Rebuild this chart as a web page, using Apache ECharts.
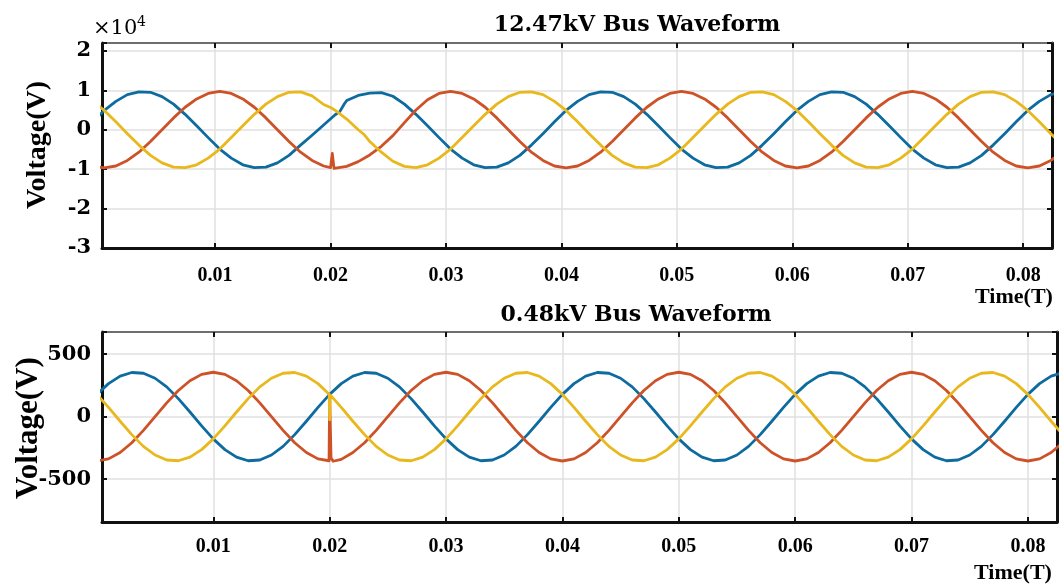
<!DOCTYPE html>
<html>
<head>
<meta charset="utf-8">
<script src="https://cdn.jsdelivr.net/npm/echarts@6/dist/echarts.min.js"></script>
<style>
  html, body { margin: 0; padding: 0; background: #fff; }
  #chart { width: 1064px; height: 584px; }
</style>
</head>
<body>
<div id="chart"></div>
<script>
// ---- 12.47 kV bus (values in units of 10^4 V), sampled every 1 ms ----
const timeTop = [-0.0006, 0.0004, 0.0014, 0.0024, 0.0034, 0.0044, 0.0054, 0.0064, 0.0074, 0.0084, 0.0094,
  0.0104, 0.0114, 0.0124, 0.0134, 0.0144, 0.0154, 0.0164, 0.0174, 0.0184, 0.0194,
  0.0204, 0.0214, 0.0224, 0.0234, 0.0244, 0.0254, 0.0264, 0.0274, 0.0284, 0.0294,
  0.0304, 0.0314, 0.0324, 0.0334, 0.0344, 0.0354, 0.0364, 0.0374, 0.0384, 0.0394,
  0.0404, 0.0414, 0.0424, 0.0434, 0.0444, 0.0454, 0.0464, 0.0474, 0.0484, 0.0494,
  0.0504, 0.0514, 0.0524, 0.0534, 0.0544, 0.0554, 0.0564, 0.0574, 0.0584, 0.0594,
  0.0604, 0.0614, 0.0624, 0.0634, 0.0644, 0.0654, 0.0664, 0.0674, 0.0684, 0.0694,
  0.0704, 0.0714, 0.0724, 0.0734, 0.0744, 0.0754, 0.0764, 0.0774, 0.0784, 0.0794,
  0.0804, 0.0814, 0.0824, 0.0834];

const phaseATop = [0.20,
  0.49, 0.72, 0.89, 0.96, 0.95, 0.84, 0.65, 0.39, 0.10, -0.20, -0.49, -0.72, -0.89, -0.96, -0.95, -0.84, -0.65, -0.39, -0.14, 0.12,
  0.38, 0.74, 0.87, 0.93, 0.94, 0.85, 0.65, 0.39, 0.10, -0.20, -0.49, -0.72, -0.89, -0.96, -0.95, -0.84, -0.65, -0.39, -0.10, 0.20,
  0.49, 0.72, 0.89, 0.96, 0.95, 0.84, 0.65, 0.39, 0.10, -0.20, -0.49, -0.72, -0.89, -0.96, -0.95, -0.84, -0.65, -0.39, -0.10, 0.20,
  0.49, 0.72, 0.89, 0.96, 0.95, 0.84, 0.65, 0.39, 0.10, -0.20, -0.49, -0.72, -0.89, -0.96, -0.95, -0.84, -0.65, -0.39, -0.10, 0.20,
  0.49, 0.72, 0.89, 0.96];

const phaseBTop = [-0.92,
  -0.97, -0.92, -0.78, -0.57, -0.30, 0, 0.30, 0.57, 0.78, 0.92, 0.97, 0.92, 0.78, 0.57, 0.30, 0, -0.30, -0.57, -0.78, -0.92,
  -0.97, -0.93, -0.81, -0.64, -0.42, -0.15, 0.18, 0.50, 0.76, 0.92, 0.97, 0.92, 0.78, 0.57, 0.30, 0, -0.30, -0.57, -0.78, -0.92,
  -0.97, -0.92, -0.78, -0.57, -0.30, 0, 0.30, 0.57, 0.78, 0.92, 0.97, 0.92, 0.78, 0.57, 0.30, 0, -0.30, -0.57, -0.78, -0.92,
  -0.97, -0.92, -0.78, -0.57, -0.30, 0, 0.30, 0.57, 0.78, 0.92, 0.97, 0.92, 0.78, 0.57, 0.30, 0, -0.30, -0.57, -0.78, -0.92,
  -0.97, -0.92, -0.78, -0.57];

const phaseCTop = [0.72,
  0.49, 0.20, -0.10, -0.39, -0.65, -0.84, -0.95, -0.96, -0.89, -0.72, -0.49, -0.20, 0.10, 0.39, 0.65, 0.84, 0.95, 0.96, 0.86, 0.64,
  0.49, 0.27, 0.00, -0.30, -0.57, -0.80, -0.93, -0.96, -0.89, -0.72, -0.49, -0.20, 0.10, 0.39, 0.65, 0.84, 0.95, 0.96, 0.89, 0.72,
  0.49, 0.20, -0.10, -0.39, -0.65, -0.84, -0.95, -0.96, -0.89, -0.72, -0.49, -0.20, 0.10, 0.39, 0.65, 0.84, 0.95, 0.96, 0.89, 0.72,
  0.49, 0.20, -0.10, -0.39, -0.65, -0.84, -0.95, -0.96, -0.89, -0.72, -0.49, -0.20, 0.10, 0.39, 0.65, 0.84, 0.95, 0.96, 0.89, 0.72,
  0.49, 0.20, -0.10, -0.39];

// extra samples around the switching event near 20 ms
const phaseATopEvent = [[0.0208, 0.46], [0.0212, 0.66]];
const phaseBTopEvent = [[0.0200, -0.96], [0.02015, -0.60], [0.0203, -0.98]];
const phaseCTopEvent = [[0.0201, 0.55], [0.0207, 0.43], [0.0210, 0.36], [0.0229, -0.12]];

// ---- 0.48 kV bus (values in V), sampled every 1 ms ----
const timeBottom = [0, 0.001, 0.002, 0.003, 0.004, 0.005, 0.006, 0.007, 0.008, 0.009,
  0.010, 0.011, 0.012, 0.013, 0.014, 0.015, 0.016, 0.017, 0.018, 0.019,
  0.020, 0.021, 0.022, 0.023, 0.024, 0.025, 0.026, 0.027, 0.028, 0.029,
  0.030, 0.031, 0.032, 0.033, 0.034, 0.035, 0.036, 0.037, 0.038, 0.039,
  0.040, 0.041, 0.042, 0.043, 0.044, 0.045, 0.046, 0.047, 0.048, 0.049,
  0.050, 0.051, 0.052, 0.053, 0.054, 0.055, 0.056, 0.057, 0.058, 0.059,
  0.060, 0.061, 0.062, 0.063, 0.064, 0.065, 0.066, 0.067, 0.068, 0.069,
  0.070, 0.071, 0.072, 0.073, 0.074, 0.075, 0.076, 0.077, 0.078, 0.079,
  0.080, 0.081, 0.082, 0.083];

const phaseABottom = [
  178, 264, 324, 353, 347, 307, 238, 144, 37, -74, -178, -264, -324, -353, -347, -307, -238, -144, -37, 74,
  178, 264, 324, 353, 347, 307, 238, 144, 37, -74, -178, -264, -324, -353, -347, -307, -238, -144, -37, 74,
  178, 264, 324, 353, 347, 307, 238, 144, 37, -74, -178, -264, -324, -353, -347, -307, -238, -144, -37, 74,
  178, 264, 324, 353, 347, 307, 238, 144, 37, -74, -178, -264, -324, -353, -347, -307, -238, -144, -37, 74,
  178, 264, 324, 353];

const phaseBBottom = [
  -355, -338, -287, -209, -110, 0, 110, 209, 287, 338, 355, 338, 287, 209, 110, 0, -110, -209, -287, -338,
  172, -342, -287, -209, -110, 0, 110, 209, 287, 338, 355, 338, 287, 209, 110, 0, -110, -209, -287, -338,
  -355, -338, -287, -209, -110, 0, 110, 209, 287, 338, 355, 338, 287, 209, 110, 0, -110, -209, -287, -338,
  -355, -338, -287, -209, -110, 0, 110, 209, 287, 338, 355, 338, 287, 209, 110, 0, -110, -209, -287, -338,
  -355, -338, -287, -209];

const phaseCBottom = [
  178, 74, -37, -144, -238, -307, -347, -353, -324, -264, -178, -74, 37, 144, 238, 307, 347, 353, 324, 264,
  -25, 74, -37, -144, -238, -307, -347, -353, -324, -264, -178, -74, 37, 144, 238, 307, 347, 353, 324, 264,
  178, 74, -37, -144, -238, -307, -347, -353, -324, -264, -178, -74, 37, 144, 238, 307, 347, 353, 324, 264,
  178, 74, -37, -144, -238, -307, -347, -353, -324, -264, -178, -74, 37, 144, 238, 307, 347, 353, 324, 264,
  178, 74, -37, -144];

const phaseBBottomEvent = [[0.01995, -353], [0.02012, -330], [0.0203, -357]];
const phaseCBottomEvent = [[0.01996, 179], [0.02005, 174]];

// axis tick values
const xTicks = [0.01, 0.02, 0.03, 0.04, 0.05, 0.06, 0.07, 0.08];
const yTicksTop = [2, 1, 0, -1, -2, -3];
const yTicksBottom = [500, 0, -500];

const PHASE_COLORS = ['#0d6b9f', '#cd5228', '#e8b81c'];

function pairs(times, values, extra) {
  const pts = times.map((t, i) => [t, values[i]]);
  return pts.concat(extra || []).sort((a, b) => a[0] - b[0]);
}

function isTick(v, list) {
  return list.some(t => Math.abs(t - v) < 1e-9);
}

const serif = 'Liberation Serif';
const wideSerif = 'DejaVu Serif';

function xAxes(gridIndex, min, max, labelMargin) {
  return [
    {
      gridIndex, type: 'value', position: 'bottom', min, max,
      minInterval: 0.01, maxInterval: 0.01,
      axisLine: { show: true, onZero: false, lineStyle: { color: '#111', width: 3 } },
      axisTick: { show: true, inside: true, length: 5, lineStyle: { color: '#111', width: 2 } },
      axisLabel: {
        margin: labelMargin, color: '#000', fontFamily: serif, fontWeight: 'bold', fontSize: 20,
        formatter: v => isTick(v, xTicks) ? v.toFixed(2) : ''
      },
      splitLine: { show: true, lineStyle: { color: '#e0e0e0', width: 1.5 } }
    },
    {
      gridIndex, type: 'value', position: 'top', min, max,
      minInterval: 0.01, maxInterval: 0.01,
      axisLine: { show: true, onZero: false, lineStyle: { color: '#6e6e6e', width: 2 } },
      axisTick: { show: true, inside: true, length: 5, lineStyle: { color: '#111', width: 2 } },
      axisLabel: { show: false },
      splitLine: { show: false }
    }
  ];
}

function yAxes(gridIndex, min, max, step, ticks) {
  return [
    {
      gridIndex, type: 'value', position: 'left', min, max,
      minInterval: step, maxInterval: step,
      axisLine: { show: true, onZero: false, lineStyle: { color: '#111', width: 3 } },
      axisTick: { show: true, inside: true, length: 5, lineStyle: { color: '#111', width: 2 } },
      axisLabel: {
        margin: 11, color: '#000', fontFamily: wideSerif, fontWeight: 'bold', fontSize: 21,
        formatter: v => isTick(v, ticks) ? String(Math.round(v)) : ''
      },
      splitLine: { show: true, lineStyle: { color: '#e0e0e0', width: 1.5 } }
    },
    {
      gridIndex, type: 'value', position: 'right', min, max,
      minInterval: step, maxInterval: step,
      axisLine: { show: true, onZero: false, lineStyle: { color: '#111', width: 3 } },
      axisTick: { show: true, inside: true, length: 5, lineStyle: { color: '#111', width: 2 } },
      axisLabel: { show: false },
      splitLine: { show: false }
    }
  ];
}

function phaseSeries(name, data, color, axisIndex) {
  return {
    name, type: 'line', data, xAxisIndex: axisIndex, yAxisIndex: axisIndex,
    showSymbol: false, symbol: 'none', smooth: false, clip: true,
    lineStyle: { color, width: 2.8, join: 'round' }, itemStyle: { color },
    emphasis: { disabled: true }
  };
}

const chart = echarts.init(document.getElementById('chart'), null, { renderer: 'canvas' });

chart.setOption({
  animation: false,
  backgroundColor: '#ffffff',
  grid: [
    { left: 102, top: 43, width: 950, height: 205, containLabel: false },
    { left: 102, top: 332, width: 955, height: 190, containLabel: false }
  ],
  xAxis: [...xAxes(0, 0.0002, 0.0825, 18), ...xAxes(1, 0.00044, 0.0825, 15)],
  yAxis: [...yAxes(0, -3, 2.2, 1, yTicksTop), ...yAxes(1, -843, 677, 500, yTicksBottom)],
  series: [
    phaseSeries('A', pairs(timeTop, phaseATop, phaseATopEvent), PHASE_COLORS[0], 0),
    phaseSeries('B', pairs(timeTop, phaseBTop, phaseBTopEvent), PHASE_COLORS[1], 0),
    phaseSeries('C', pairs(timeTop, phaseCTop, phaseCTopEvent), PHASE_COLORS[2], 0),
    phaseSeries('A', pairs(timeBottom, phaseABottom), PHASE_COLORS[0], 2),
    phaseSeries('B', pairs(timeBottom, phaseBBottom, phaseBBottomEvent), PHASE_COLORS[1], 2),
    phaseSeries('C', pairs(timeBottom, phaseCBottom, phaseCBottomEvent), PHASE_COLORS[2], 2)
  ],
  graphic: [
    { type: 'text', x: 637, y: 25, style: { text: '12.47kV Bus Waveform', fontFamily: wideSerif, fontWeight: 'bold', fontSize: 22, fill: '#000', align: 'center', verticalAlign: 'middle' } },
    { type: 'text', x: 636, y: 315, style: { text: '0.48kV Bus Waveform', fontFamily: wideSerif, fontWeight: 'bold', fontSize: 22, fill: '#000', align: 'center', verticalAlign: 'middle' } },
    { type: 'text', x: 93, y: 29, style: { text: '×10', fontFamily: wideSerif, fontSize: 21, fill: '#000', align: 'left', verticalAlign: 'middle' } },
    { type: 'text', x: 137, y: 22, style: { text: '4', fontFamily: wideSerif, fontSize: 14, fill: '#000', align: 'left', verticalAlign: 'middle' } },
    { type: 'text', x: 38, y: 145, rotation: Math.PI / 2, style: { text: 'Voltage(V)', fontFamily: serif, fontWeight: 'bold', fontSize: 28, fill: '#000', align: 'center', verticalAlign: 'middle' } },
    { type: 'text', x: 29, y: 428, rotation: Math.PI / 2, style: { text: 'Voltage(V)', fontFamily: serif, fontWeight: 'bold', fontSize: 31, fill: '#000', align: 'center', verticalAlign: 'middle' } },
    { type: 'text', x: 1014, y: 297, style: { text: 'Time(T)', fontFamily: serif, fontWeight: 'bold', fontSize: 22, fill: '#000', align: 'center', verticalAlign: 'middle' } },
    { type: 'text', x: 1013, y: 573, style: { text: 'Time(T)', fontFamily: serif, fontWeight: 'bold', fontSize: 22, fill: '#000', align: 'center', verticalAlign: 'middle' } }
  ]
});
</script>
</body>
</html>
